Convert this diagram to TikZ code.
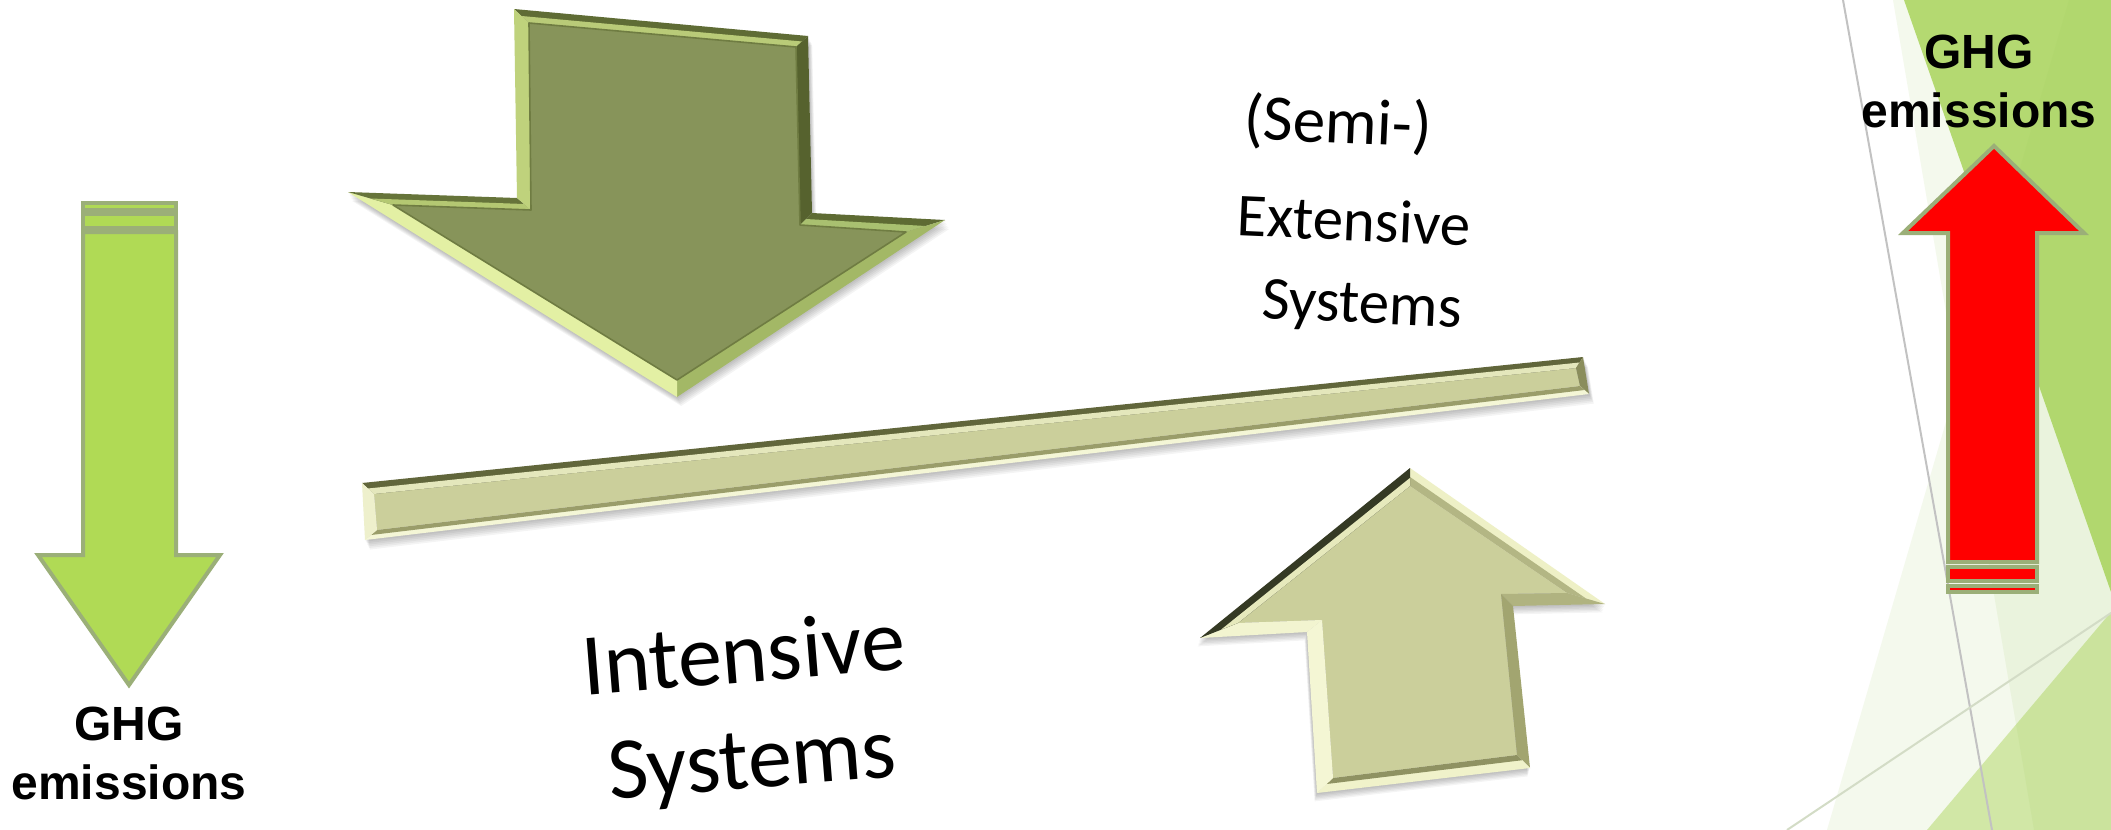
\documentclass[tikz,border=0pt]{standalone}
\usepackage{fontspec}
\newfontfamily\ghgfont{Liberation Sans}
\newfontfamily\sysfont{Carlito}
\usetikzlibrary{calc}

% palette
\definecolor{rimgreen}{HTML}{9BAF78}
\definecolor{ghggreen}{HTML}{B0DA55}
\definecolor{ghgred}{HTML}{FF0000}
\definecolor{oliveface}{HTML}{87945A}
\definecolor{khakiface}{HTML}{CBCF9B}
\definecolor{facetmid}{HTML}{B8DB74}
\definecolor{facetlow}{HTML}{D8EBB0}
\definecolor{facettint}{HTML}{9CCB5C}
\definecolor{facetline}{HTML}{C2C2C2}
\definecolor{facetline2}{HTML}{D3DCC6}
% bevel tones, down arrow
\definecolor{daTopOut}{HTML}{5F6C35}
\definecolor{daTopIn}{HTML}{B9CB78}
\definecolor{daRight}{HTML}{56622E}
\definecolor{daLedgeOut}{HTML}{5E6B33}
\definecolor{daLedgeIn}{HTML}{A9C070}
\definecolor{daSlopeR}{HTML}{A3B866}
\definecolor{daSlopeL}{HTML}{E3F0A4}
\definecolor{daLedgeLOut}{HTML}{66743A}
\definecolor{daLedgeLIn}{HTML}{B4C872}
\definecolor{daLeft}{HTML}{BFD27C}
\definecolor{daInner}{HTML}{6F7C42}
% bevel tones, bar
\definecolor{brTopOut}{HTML}{61663B}
\definecolor{brTopIn}{HTML}{E4E7BC}
\definecolor{brRight}{HTML}{8A8D5C}
\definecolor{brBotOut}{HTML}{F4F6D6}
\definecolor{brBotIn}{HTML}{9A9D6A}
\definecolor{brLeft}{HTML}{EEF0CC}
% bevel tones, up arrow
\definecolor{uaSlopeROut}{HTML}{EEF0C6}
\definecolor{uaSlopeRIn}{HTML}{B3B684}
\definecolor{uaLedgeR}{HTML}{B0B380}
\definecolor{uaRight}{HTML}{A2A570}
\definecolor{uaBotOut}{HTML}{F0F2CA}
\definecolor{uaBotIn}{HTML}{8F9262}
\definecolor{uaLeft}{HTML}{F4F6D4}
\definecolor{uaLedgeL}{HTML}{F2F4D0}
\definecolor{uaSlopeLOut}{HTML}{353A24}
\definecolor{uaSlopeLIn}{HTML}{E6E9BC}

% outlines of the raised shapes (px units, y down)
\newcommand{\bigarrowoutline}{(514,9) -- (808,36) -- (812,213) -- (945,220) -- (677,397) -- (348,192) -- (517,198) -- cycle}
\newcommand{\baroutline}{(362,483) -- (1583,357) -- (1589,394) -- (365,540) -- cycle}
\newcommand{\uparrowoutline}{(1410,468) -- (1605,604) -- (1513,606) -- (1530,768) -- (1317,793) -- (1307,632) -- (1200,638) -- cycle}

\tikzset{
  flatarrow/.style={draw=rimgreen, line width=2pt, line join=miter, miter limit=10},
  ghglabel/.style={font=\ghgfont\bfseries\fontsize{24}{29.5}\selectfont, align=center, inner sep=0pt},
  extlabel/.style={font=\sysfont\fontsize{30.5}{40}\selectfont, inner sep=0pt, rotate=-2.5},
  intlabel/.style={font=\sysfont\fontsize{44}{53}\selectfont, align=center, inner sep=0pt},
  softshade/.style={black, opacity=0.045},
}

\begin{document}
\begin{tikzpicture}[x=0.5pt, y=-0.5pt]
\useasboundingbox (0,0) rectangle (2111,830);
\fill[white] (0,0) rectangle (2111,830);

% ---- facet decoration on the right edge ----
\fill[facetmid] (1904,0) -- (2111,0) -- (2111,592) -- cycle;
\fill[facetlow] (2111,612) -- (2111,830) -- (1927,830) -- cycle;
\fill[facettint, opacity=0.11] (1893,0) -- (2111,0) -- (2111,830) -- (2034,830) -- cycle;
\fill[facettint, opacity=0.11] (2069,0) -- (2111,0) -- (2111,830) -- (1827,830) -- cycle;
\draw[facetline, line width=1pt] (1843,0) -- (1992,830);
\draw[facetline2, line width=1pt] (1787,830) -- (2111,613);

% ---- flat GHG arrows ----
% falling emissions (left)
\draw[flatarrow, fill=ghggreen] (83,203) rectangle (176,210);
\draw[flatarrow, fill=ghggreen] (83,214) rectangle (176,228);
\draw[flatarrow, fill=ghggreen] (129,685) -- (38,555) -- (83,555) -- (83,232)
      -- (176,232) -- (176,555) -- (220,555) -- cycle;
% rising emissions (right)
\draw[flatarrow, fill=ghgred] (1994,146) -- (2084,233) -- (2037,233) -- (2037,562)
      -- (1948,562) -- (1948,233) -- (1903,233) -- cycle;
\draw[flatarrow, fill=ghgred] (1948,567) rectangle (2037,581);
\draw[flatarrow, fill=ghgred] (1948,586) rectangle (2037,592);

% ---- bevelled down arrow ----
\foreach \k in {1,...,6} \fill[softshade, shift={(0.7*\k,1.5*\k)}] \bigarrowoutline;
\coordinate (p1) at (514,9);   \coordinate (q1) at (529,23);
\coordinate (p2) at (808,36);  \coordinate (q2) at (796,47);
\coordinate (p3) at (812,213); \coordinate (q3) at (800,225);
\coordinate (p4) at (945,220); \coordinate (q4) at (906,232);
\coordinate (p5) at (677,397); \coordinate (q5) at (677,380);
\coordinate (p6) at (348,192); \coordinate (q6) at (393,205);
\coordinate (p7) at (517,198); \coordinate (q7) at (531,210);
\fill[oliveface] (q1) -- (q2) -- (q3) -- (q4) -- (q5) -- (q6) -- (q7) -- cycle;
\fill[daTopOut] (p1) -- (p2) -- (q2) -- (q1) -- cycle;
\fill[daTopIn] ($(p1)!0.5!(q1)$) -- ($(p2)!0.5!(q2)$) -- (q2) -- (q1) -- cycle;
\fill[daRight] (p2) -- (p3) -- (q3) -- (q2) -- cycle;
\fill[daLedgeOut] (p3) -- (p4) -- (q4) -- (q3) -- cycle;
\fill[daLedgeIn] ($(p3)!0.5!(q3)$) -- ($(p4)!0.5!(q4)$) -- (q4) -- (q3) -- cycle;
\fill[daSlopeR] (p4) -- (p5) -- (q5) -- (q4) -- cycle;
\fill[daSlopeL] (p5) -- (p6) -- (q6) -- (q5) -- cycle;
\fill[daLedgeLOut] (p6) -- (p7) -- (q7) -- (q6) -- cycle;
\fill[daLedgeLIn] ($(p6)!0.5!(q6)$) -- ($(p7)!0.5!(q7)$) -- (q7) -- (q6) -- cycle;
\fill[daLeft] (p7) -- (p1) -- (q1) -- (q7) -- cycle;
\draw[daInner, line width=0.8pt, line join=round]
  (q1) -- (q2) -- (q3) -- (q4) -- (q5) -- (q6) -- (q7) -- cycle;

% ---- bevelled bar ----
\foreach \k in {1,...,6} \fill[softshade, shift={(0.8*\k,1.6*\k)}] \baroutline;
\coordinate (b1) at (362,483);  \coordinate (c1) at (374,494);
\coordinate (b2) at (1583,357); \coordinate (c2) at (1576,368);
\coordinate (b3) at (1589,394); \coordinate (c3) at (1580,386);
\coordinate (b4) at (365,540);  \coordinate (c4) at (377,530);
\fill[khakiface] (c1) -- (c2) -- (c3) -- (c4) -- cycle;
\fill[brTopOut] (b1) -- (b2) -- (c2) -- (c1) -- cycle;
\fill[brTopIn] ($(b1)!0.5!(c1)$) -- ($(b2)!0.5!(c2)$) -- (c2) -- (c1) -- cycle;
\fill[brRight] (b2) -- (b3) -- (c3) -- (c2) -- cycle;
\fill[brBotOut] (b3) -- (b4) -- (c4) -- (c3) -- cycle;
\fill[brBotIn] ($(b3)!0.5!(c3)$) -- ($(b4)!0.5!(c4)$) -- (c4) -- (c3) -- cycle;
\fill[brLeft] (b4) -- (b1) -- (c1) -- (c4) -- cycle;

% ---- bevelled up arrow ----
\foreach \k in {1,...,6} \fill[softshade, shift={(-0.4*\k,1.4*\k)}] \uparrowoutline;
\coordinate (u1) at (1410,468); \coordinate (v1) at (1410,486);
\coordinate (u2) at (1605,604); \coordinate (v2) at (1567,593);
\coordinate (u3) at (1513,606); \coordinate (v3) at (1501,594);
\coordinate (u4) at (1530,768); \coordinate (v4) at (1517,755);
\coordinate (u5) at (1317,793); \coordinate (v5) at (1333,778);
\coordinate (u6) at (1307,632); \coordinate (v6) at (1322,620);
\coordinate (u7) at (1200,638); \coordinate (v7) at (1238,623);
\fill[khakiface] (v1) -- (v2) -- (v3) -- (v4) -- (v5) -- (v6) -- (v7) -- cycle;
\fill[uaSlopeROut] (u1) -- (u2) -- (v2) -- (v1) -- cycle;
\fill[uaSlopeRIn] ($(u1)!0.5!(v1)$) -- ($(u2)!0.5!(v2)$) -- (v2) -- (v1) -- cycle;
\fill[uaLedgeR] (u2) -- (u3) -- (v3) -- (v2) -- cycle;
\fill[uaRight] (u3) -- (u4) -- (v4) -- (v3) -- cycle;
\fill[uaBotOut] (u4) -- (u5) -- (v5) -- (v4) -- cycle;
\fill[uaBotIn] ($(u4)!0.6!(v4)$) -- ($(u5)!0.6!(v5)$) -- (v5) -- (v4) -- cycle;
\fill[uaLeft] (u5) -- (u6) -- (v6) -- (v5) -- cycle;
\fill[uaLedgeL] (u6) -- (u7) -- (v7) -- (v6) -- cycle;
\fill[uaSlopeLOut] (u7) -- (u1) -- (v1) -- (v7) -- cycle;
\fill[uaSlopeLIn] ($(u7)!0.55!(v7)$) -- ($(u1)!0.55!(v1)$) -- (v1) -- (v7) -- cycle;

% ---- labels ----
\node[ghglabel] (ghgdown) at (129,753) {GHG\\emissions};
\node[ghglabel] (ghgup) at (1979,81) {GHG\\emissions};
\node[extlabel, font=\sysfont\fontsize{32.5}{40}\selectfont] (semi) at (1338,124) {(Semi-)};
\node[extlabel] (extensive) at (1354,220) {Extensive};
\node[extlabel] (extsystems) at (1362,308) {Systems};
\node[intlabel, rotate=4.6] (intensive) at (748,712) {Intensive\\Systems};
\end{tikzpicture}
\end{document}
